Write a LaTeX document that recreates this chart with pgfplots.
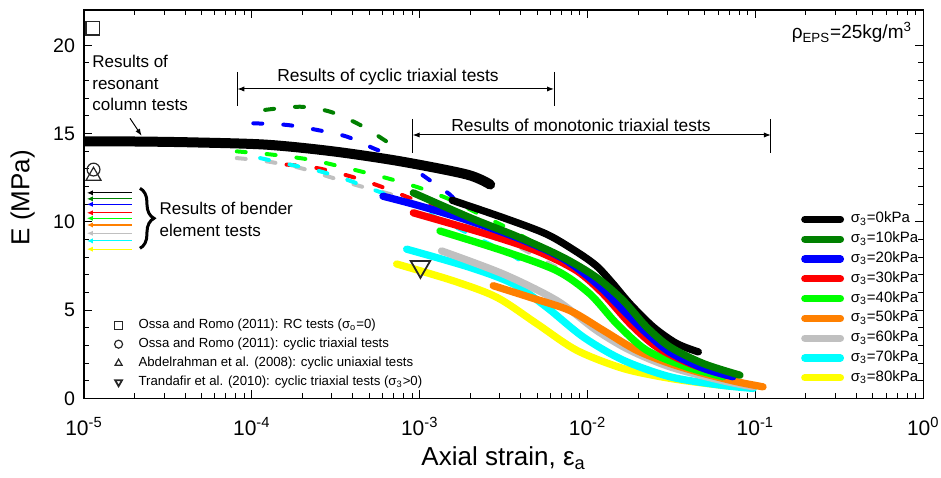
\documentclass[border=0pt]{standalone}
\usepackage{fontspec}
\setmainfont{Liberation Sans}
\usepackage{pgfplots}
\pgfplotsset{compat=1.18}
\usetikzlibrary{arrows.meta,decorations.pathreplacing}
\definecolor{cDG}{RGB}{0,128,0}
\definecolor{cBL}{RGB}{0,0,255}
\definecolor{cRD}{RGB}{255,0,0}
\definecolor{cGR}{RGB}{0,255,0}
\definecolor{cOR}{RGB}{255,128,0}
\definecolor{cGY}{RGB}{192,192,192}
\definecolor{cCY}{RGB}{0,255,255}
\definecolor{cYE}{RGB}{255,255,0}
\tikzset{
  mysolid/.style={line width=3.65pt, line cap=round, line join=round},
  mydash/.style={line width=2pt, line cap=round, dash pattern=on 4.5pt off 10.5pt},
  myarr/.style={line width=0.6pt, -{Latex[length=3pt,width=2.6pt]}},
}
\begin{document}
\begin{tikzpicture}
\useasboundingbox (-42pt,-39.35pt) rectangle (428.5pt,199.15pt);
\begin{axis}[at={(0pt,0pt)}, anchor=south west,
  width=419.65pt, height=194.15pt, scale only axis,
  xmode=log, xmin=1e-5, xmax=1, ymin=0, ymax=22,
  xtick={1e-5,1e-4,1e-3,1e-2,1e-1,1},
  xticklabels={10\textsuperscript{-5},10\textsuperscript{-4},10\textsuperscript{-3},10\textsuperscript{-2},10\textsuperscript{-1},10\textsuperscript{0}},
  ytick={0,5,10,15,20}, minor y tick num=4,
  /pgf/number format/assume math mode=true,
  yticklabel style={font=\fontsize{9.8}{11}\selectfont, xshift=-1pt},
  xticklabel style={font=\fontsize{10.5}{12}\selectfont, yshift=-6pt},
  major tick length=4pt, minor tick length=2.5pt,
  every tick/.style={line width=0.5pt, black},
  axis line style={line width=0.75pt},
  xlabel={Axial strain, ε\textsubscript{a}},
  ylabel={E (MPa)},
  label style={font=\fontsize{13}{15}\selectfont},
  xlabel style={at={(axis description cs:0.5,-0.174)}, anchor=base},
  ylabel style={at={(axis description cs:-0.073,0.517)}, anchor=center},
  legend style={draw=none, fill=none, at={(rel axis cs:0.854,0.487)}, anchor=north west,
    font=\fontsize{7.5}{8}\selectfont, inner sep=0pt, row sep=0.1pt,
    nodes={inner sep=1pt, text height=5.6pt, text depth=2.2pt}},
  legend cell align=left,
  legend image code/.code={\draw[#1, line width=3.65pt, line cap=round] (0pt,0pt) -- (17.8pt,0pt); \path[draw=none, fill=none] (0pt,0pt) -- (22pt,0pt);},
]
% legend entries
\addlegendimage{black}\addlegendentry{σ\textsubscript{3}=0kPa}
\addlegendimage{cDG}\addlegendentry{σ\textsubscript{3}=10kPa}
\addlegendimage{cBL}\addlegendentry{σ\textsubscript{3}=20kPa}
\addlegendimage{cRD}\addlegendentry{σ\textsubscript{3}=30kPa}
\addlegendimage{cGR}\addlegendentry{σ\textsubscript{3}=40kPa}
\addlegendimage{cOR}\addlegendentry{σ\textsubscript{3}=50kPa}
\addlegendimage{cGY}\addlegendentry{σ\textsubscript{3}=60kPa}
\addlegendimage{cCY}\addlegendentry{σ\textsubscript{3}=70kPa}
\addlegendimage{cYE}\addlegendentry{σ\textsubscript{3}=80kPa}

% cyclic triaxial (dashed)
\addplot[mydash, cDG, smooth, forget plot] coordinates {(1.20e-4,16.34) (1.94e-4,16.52) (2.92e-4,16.24) (4.41e-4,15.49) (6.35e-4,14.55) (6.81e-4,14.37)};
\addplot[mydash, cBL, smooth, forget plot] coordinates {(1.02e-4,15.58) (1.61e-4,15.49) (2.43e-4,15.21) (3.67e-4,14.83) (5.28e-4,14.17) (7.63e-4,13.52) (1.10e-3,12.48) (1.51e-3,11.55) (1.62e-3,11.2)};
\addplot[mydash, cGR, smooth, forget plot] coordinates {(8.13e-5,13.99) (1.34e-4,13.80) (2.22e-4,13.52) (3.67e-4,13.05) (6.35e-4,12.48) (1.00e-3,11.92) (1.51e-3,11.27) (2.08e-3,10.61) (3.30e-3,9.67) (4.98e-3,8.73)};
\addplot[mydash, cRD, smooth, forget plot] coordinates {(1.61e-4,13.24) (2.43e-4,13.05) (3.85e-4,12.58) (5.79e-4,12.02) (9.16e-4,11.27) (1.32e-3,10.72) (1.92e-3,10.21)};
\addplot[mydash, cGY, smooth, forget plot] coordinates {(8.13e-5,13.61) (1.22e-4,13.43) (1.94e-4,13.05) (3.05e-4,12.48) (4.41e-4,12.02) (6.65e-4,11.57) (1.00e-3,10.99) (1.46e-3,10.44) (2.18e-3,9.67) (3.31e-3,8.92) (7.51e-3,7.12)};
\addplot[mydash, cCY, smooth, forget plot] coordinates {(1.12e-4,13.61) (1.69e-4,13.24) (2.55e-4,12.86) (3.67e-4,12.39) (5.28e-4,11.83) (7.98e-4,11.17) (1.15e-3,10.42) (1.66e-3,9.67) (2.39e-3,8.92) (3.45e-3,8.17) (4.42e-3,7.51)};

% resonant column
\addplot[black, line width=5pt, line cap=round, smooth, forget plot] coordinates {(1e-5,14.55) (2e-5,14.55) (4.46e-5,14.5) (1.22e-4,14.37) (3.05e-4,13.99) (7.63e-4,13.43) (1.91e-3,12.68) (2.63e-3,12.11)};

% monotonic triaxial (solid)
\addplot[mysolid, cYE, smooth, forget plot] coordinates {(7.29e-4,7.61) (1.58e-3,6.66) (2.88e-3,5.72) (4.98e-3,4.23) (8.61e-3,2.72) (1.63e-2,1.69) (3.10e-2,1.13) (6.15e-2,0.75) (9.29e-2,0.62)};
\addplot[mysolid, cCY, smooth, forget plot] coordinates {(8.36e-4,8.45) (2.00e-3,7.41) (3.61e-3,6.48) (5.70e-3,5.16) (9.44e-3,3.47) (1.63e-2,2.16) (3.10e-2,1.22) (6.15e-2,0.75) (9.71e-2,0.56)};
\addplot[mysolid, cGY, smooth, forget plot] coordinates {(1.35e-3,8.35) (3.15e-3,7.04) (6.55e-3,5.54) (1.13e-2,3.85) (1.79e-2,2.72) (3.10e-2,1.78) (6.15e-2,1.03) (9.71e-2,0.65)};
\addplot[mysolid, cOR, smooth, forget plot] coordinates {(2.74e-3,6.38) (4.54e-3,5.72) (7.85e-3,4.97) (1.24e-2,3.85) (1.96e-2,2.72) (3.10e-2,1.97) (4.89e-2,1.41) (7.73e-2,0.94) (0.111,0.65)};
\addplot[mysolid, cGR, smooth, forget plot] coordinates {(1.32e-3,9.48) (3.15e-3,8.35) (6.55e-3,7.23) (1.03e-2,5.92) (1.49e-2,4.23) (2.25e-2,2.72) (3.89e-2,1.78) (6.43e-2,1.22)};
\addplot[mysolid, cRD, smooth, forget plot] coordinates {(9.16e-4,10.51) (2.51e-3,9.30) (4.98e-3,8.35) (8.61e-3,7.23) (1.24e-2,5.92) (1.79e-2,4.23) (2.58e-2,2.91) (4.07e-2,1.97) (6.74e-2,1.31)};
\addplot[mysolid, cBL, smooth, forget plot] coordinates {(6.04e-4,11.45) (1.0e-3,10.9) (2.0e-3,10.04) (3.96e-3,9.03) (7.16e-3,7.91) (1.13e-2,6.5) (1.63e-2,5.0) (2.25e-2,3.68) (3.10e-2,2.6) (4.89e-2,1.7) (7.35e-2,1.22)};
\addplot[mysolid, black, smooth, forget plot] coordinates {(1.56e-3,11.22) (3.15e-3,10.23) (5.70e-3,9.30) (8.61e-3,8.30) (1.13e-2,7.5) (1.40e-2,6.55) (1.79e-2,5.35) (2.47e-2,4.03) (3.40e-2,3.10) (4.57e-2,2.63)};
\addplot[mysolid, cDG, smooth, forget plot] coordinates {(9.16e-4,11.64) (2.00e-3,10.23) (3.96e-3,9.10) (7.16e-3,7.98) (1.13e-2,6.85) (1.63e-2,5.54) (2.25e-2,4.03) (3.10e-2,2.91) (4.89e-2,1.97) (8.09e-2,1.31)};

% bender element results
\addplot[myarr, black, forget plot] coordinates {(1.92e-5,11.64) (1.04e-5,11.64)};
\addplot[myarr, cDG, forget plot] coordinates {(1.92e-5,11.30) (1.04e-5,11.30)};
\addplot[myarr, cBL, forget plot] coordinates {(1.92e-5,10.99) (1.04e-5,10.99)};
\addplot[myarr, cRD, forget plot] coordinates {(1.92e-5,10.51) (1.04e-5,10.51)};
\addplot[myarr, cGR, forget plot] coordinates {(1.92e-5,10.20) (1.04e-5,10.20)};
\addplot[myarr, cOR, forget plot] coordinates {(1.92e-5,9.82) (1.04e-5,9.82)};
\addplot[myarr, cGY, forget plot] coordinates {(1.92e-5,9.35) (1.04e-5,9.35)};
\addplot[myarr, cCY, forget plot] coordinates {(1.92e-5,8.92) (1.04e-5,8.92)};
\addplot[myarr, cYE, forget plot] coordinates {(1.92e-5,8.45) (1.04e-5,8.45)};

% annotations
\draw[line width=0.5pt] (rel axis cs:0.1827,0.8405) -- (rel axis cs:0.1827,0.7527);
\draw[line width=0.5pt] (rel axis cs:0.560,0.8405) -- (rel axis cs:0.560,0.7527);
\draw[line width=0.5pt, {Latex[length=3.5pt,width=2.6pt]}-{Latex[length=3.5pt,width=2.6pt]}] (rel axis cs:0.1827,0.7966) -- (rel axis cs:0.560,0.7966);
\draw[line width=0.5pt] (rel axis cs:0.3916,0.7194) -- (rel axis cs:0.3916,0.6319);
\draw[line width=0.5pt] (rel axis cs:0.8185,0.7194) -- (rel axis cs:0.8185,0.6319);
\draw[line width=0.5pt, {Latex[length=3.5pt,width=2.6pt]}-{Latex[length=3.5pt,width=2.6pt]}] (rel axis cs:0.3916,0.6781) -- (rel axis cs:0.8185,0.6781);
\draw[line width=0.5pt, -{Latex[length=3.5pt,width=2.6pt]}] (rel axis cs:0.0548,0.7211) -- (rel axis cs:0.0687,0.676);
\node[font=\fontsize{8.7}{10}\selectfont] at (rel axis cs:0.3622,0.828) {Results of cyclic triaxial tests};
\node[font=\fontsize{8.7}{10}\selectfont] at (rel axis cs:0.5922,0.7039) {Results of monotonic triaxial tests};
\node[anchor=north west, inner sep=0pt, align=left, font=\fontsize{8.5}{10.8}\selectfont] at (rel axis cs:0.0095,0.8843) {Results of\\resonant\\column tests};
\node[anchor=north west, inner sep=0pt, align=left, font=\fontsize{8.5}{10.8}\selectfont] at (rel axis cs:0.0897,0.5063) {Results of bender\\element tests};
\draw[decorate, decoration={brace, amplitude=7pt}, line width=1.5pt] (rel axis cs:0.0667,0.5408) -- (rel axis cs:0.0667,0.3863);
\node[anchor=north east, inner sep=0pt, font=\fontsize{9.5}{11}\selectfont] at (rel axis cs:0.987,0.97) {ρ\textsubscript{EPS}=25kg/m\textsuperscript{3}};
\end{axis}

\begin{axis}[at={(0pt,0pt)}, anchor=south west,
  width=419.65pt, height=194.15pt, scale only axis,
  xmode=log, xmin=1e-5, xmax=1, ymin=0, ymax=22,
  hide axis,
  legend style={draw=none, fill=none, at={(rel axis cs:0.036,0.212)}, anchor=north west,
    font=\fontsize{6.6}{7}\selectfont, inner sep=0pt, row sep=0.7pt,
    nodes={inner sep=1pt, text height=5pt, text depth=1.8pt}},
  legend cell align=left,
  legend image code/.code={\path[draw=none, fill=none] (-2pt,0pt) -- (9pt,0pt); \draw[#1, mark size=2pt] plot coordinates {(0pt,0pt)};},
]
\addplot[only marks, mark=square, mark size=3.4pt, mark options={line width=0.6pt, draw=black!85}] coordinates {(1.13e-5,20.97)};
\addlegendentry{Ossa and Romo (2011): RC tests (σ\textsubscript{o}=0)}
\addplot[only marks, mark=o, mark size=3.2pt, mark options={line width=0.6pt, draw=black!85}] coordinates {(1.14e-5,12.96)};
\addlegendentry{Ossa and Romo (2011): cyclic triaxial tests}
\addplot[only marks, mark=triangle, mark size=4.3pt, mark options={line width=0.6pt, draw=black!85}] coordinates {(1.14e-5,12.6)};
\addlegendentry{Abdelrahman et al. (2008): cyclic uniaxial tests}
\addplot[only marks, mark=triangle, mark size=5.6pt, mark options={line width=0.9pt, draw=black!85, rotate=180}] coordinates {(1.01e-3,7.46)};
\addlegendentry{Trandafir et al. (2010): cyclic triaxial tests (σ\textsubscript{3}>0)}
\end{axis}
\end{tikzpicture}
\end{document}
